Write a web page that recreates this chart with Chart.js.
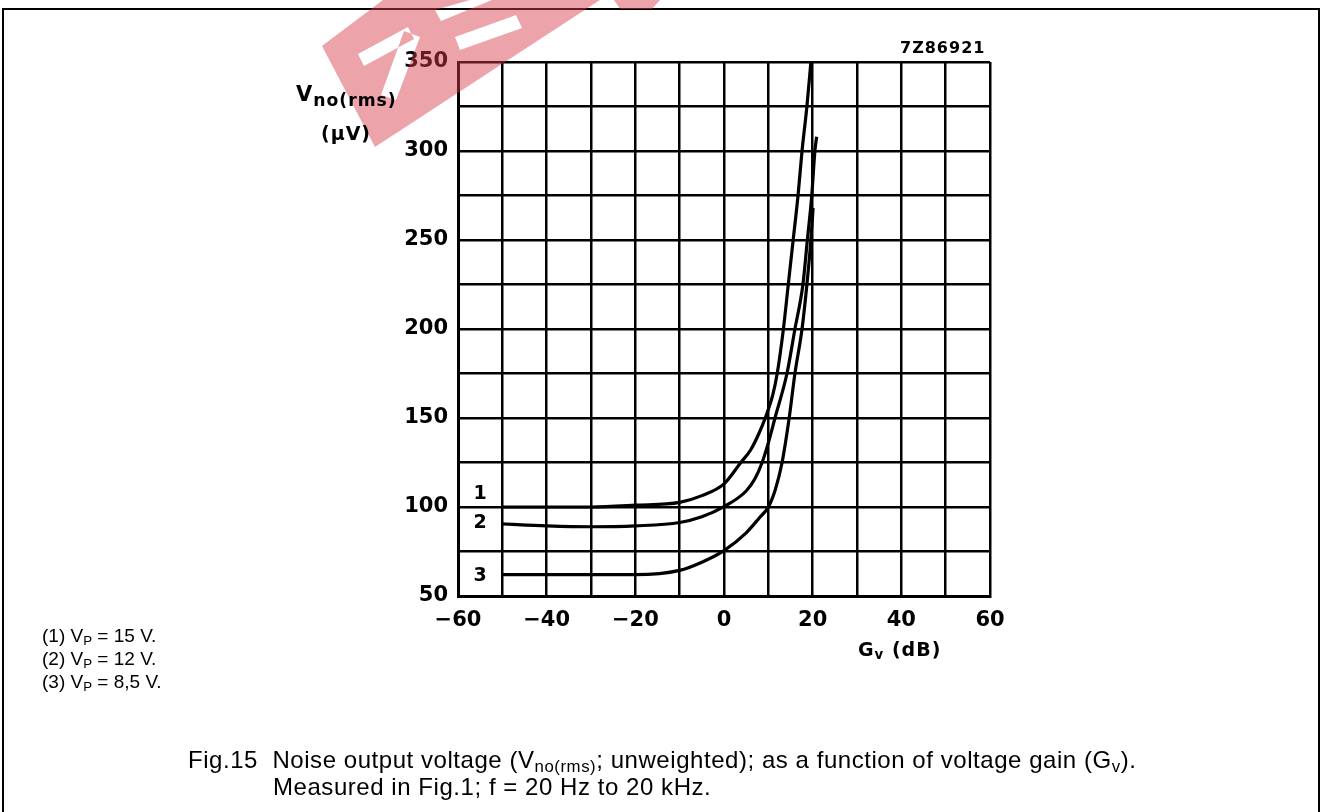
<!DOCTYPE html>
<html lang="en">
<head>
  <meta charset="UTF-8">
  <title>Fig.15 Noise output voltage</title>
  <script src="https://cdn.jsdelivr.net/npm/chart.js"></script>
  <style>
    body {
      margin: 0;
      background: white;
      width: 1326px;
      height: 812px;
      position: relative;
      overflow: hidden;
      font-family: "Liberation Sans", Arial, sans-serif;
    }
    .frame {
      position: absolute;
      left: 2px;
      top: 8px;
      width: 1318px;
      height: 820px;
      border: 2px solid #000;
      box-sizing: border-box;
    }
    #chart {
      position: absolute;
      left: 0;
      top: 0;
    }
    .lbl {
      position: absolute;
      white-space: nowrap;
      color: #000;
    }
    .bold {
      font-family: "DejaVu Sans", sans-serif;
      font-weight: bold;
      letter-spacing: 1px;
    }
    .note {
      font-size: 19px;
    }
    .caption {
      font-size: 24px;
      letter-spacing: 0.55px;
    }
    sub {
      font-size: 70%;
      vertical-align: -0.25em;
      line-height: 0;
    }
    .ysub {
      font-size: 82%;
      vertical-align: -0.3em;
    }
    #mark {
      position: absolute;
      left: 0;
      top: 0;
      pointer-events: none;
    }
  </style>
</head>
<body>
  <div class="frame"></div>
  <canvas id="chart" width="1326" height="812"></canvas>

  <svg id="mark" width="1326" height="812">
    <path fill="rgba(215,60,75,0.47)" fill-rule="evenodd"
      d="M322 46 L383 0 L600 0 L375 147 Z
         M358 54 L408 27 L414 39 L364 66 Z
         M404 31 L420 37 L396 100 L381 95 Z
         M435 10 L470 0 L492 0 L441 21 Z
         M455 37 L516 15 L522 28 L460 50 Z"/>
    <path fill="rgba(215,60,75,0.47)" d="M614 0 L660 0 L652 9 L620 9 Z"/>
  </svg>

  <div class="lbl bold" style="left:900px; top:38px; font-size:16px;">7Z86921</div>
  <div class="lbl bold" style="left:296px; top:82px; font-size:21px;">V<sub class="ysub">no(rms)</sub></div>
  <div class="lbl bold" style="left:321px; top:122px; font-size:19px;">(μV)</div>
  <div class="lbl bold" style="left:858px; top:638px; font-size:19px;">G<sub>v</sub> (dB)</div>

  <div class="lbl note" style="left:42px; top:625px;">(1) V<sub>P</sub> = 15 V.</div>
  <div class="lbl note" style="left:42px; top:648px;">(2) V<sub>P</sub> = 12 V.</div>
  <div class="lbl note" style="left:42px; top:671px;">(3) V<sub>P</sub> = 8,5 V.</div>

  <div class="lbl caption" style="left:188px; top:746px;">Fig.15&nbsp; Noise output voltage (V<sub>no(rms)</sub>; unweighted); as a function of voltage gain (G<sub>v</sub>).</div>
  <div class="lbl caption" style="left:273px; top:773px;">Measured in Fig.1; f = 20 Hz to 20 kHz.</div>

  <script>
    // curve (1) Vp = 15 V
    const gain1  = [-50, -40, -30, -20, -10, -5, 0, 3.8, 6, 8, 9.3, 11, 12, 13.4, 14.5, 15.6, 16.7, 17.6, 18.7, 19.6];
    const noise1 = [100, 100, 100, 101, 102.6, 106.4, 113, 125, 132, 142, 150, 163, 175, 200, 225, 250, 275, 300, 325, 350];

    // curve (2) Vp = 12 V
    const gain2  = [-50, -40, -30, -20, -10, -5, 0, 5, 7, 8.6, 10, 11.5, 14.2, 16, 17.8, 18.8, 19.8, 20.5, 20.9];
    const noise2 = [90.5, 89.4, 88.9, 89.4, 91.3, 94.5, 100.2, 109, 116, 125, 136, 150, 175, 200, 225, 250, 275, 300, 308];

    // curve (3) Vp = 8,5 V
    const gain3  = [-50, -40, -30, -20, -10, -5, 0, 5, 8, 10, 11.6, 13.1, 14.7, 16, 17.6, 18.7, 19.6, 20.1];
    const noise3 = [62, 62, 62, 62, 64.4, 69, 75.5, 85.5, 94, 100, 110, 125, 150, 175, 200, 225, 250, 268];

    const curveNames = ['1', '2', '3'];
    const xTicks = [-60, -40, -20, 0, 20, 40, 60];
    const yTicks = [50, 100, 150, 200, 250, 300, 350];

    function toPoints(xs, ys) {
      return xs.map((x, i) => ({ x: x, y: ys[i] }));
    }

    const tickFont = { family: 'DejaVu Sans', size: 21, weight: 'bold' };

    // draws the curve numbers at the left end of each curve
    const curveLabels = {
      id: 'curveLabels',
      afterDatasetsDraw(chart) {
        const ctx = chart.ctx;
        const xs = chart.scales.x;
        const ys = chart.scales.y;
        const spots = [[-55, 107], [-55, 91], [-55, 61]];
        ctx.save();
        ctx.fillStyle = '#000';
        ctx.font = 'bold 19px "DejaVu Sans"';
        ctx.textAlign = 'center';
        ctx.textBaseline = 'middle';
        curveNames.forEach((name, i) => {
          ctx.fillText(name, xs.getPixelForValue(spots[i][0]), ys.getPixelForValue(spots[i][1]));
        });
        ctx.restore();
      }
    };

    const lineStyle = {
      borderColor: '#000',
      backgroundColor: '#000',
      borderWidth: 3.2,
      pointRadius: 0,
      fill: false,
      cubicInterpolationMode: 'monotone'
    };

    const ctx = document.getElementById('chart').getContext('2d');
    const chart = new Chart(ctx, {
      type: 'line',
      data: {
        datasets: [
          Object.assign({ label: '(1)', data: toPoints(gain1, noise1) }, lineStyle),
          Object.assign({ label: '(2)', data: toPoints(gain2, noise2) }, lineStyle),
          Object.assign({ label: '(3)', data: toPoints(gain3, noise3) }, lineStyle)
        ]
      },
      options: {
        responsive: false,
        devicePixelRatio: 1,
        animation: false,
        layout: { padding: { left: 0, right: 336, top: 62, bottom: 176 } },
        plugins: {
          legend: { display: false },
          tooltip: { enabled: false },
          colors: { enabled: false }
        },
        scales: {
          x: {
            type: 'linear',
            min: -60,
            max: 60,
            afterFit(scale) { scale.height = 40; },
            afterBuildTicks(scale) {
              scale.ticks = [];
              for (let v = -60; v <= 60; v += 10) scale.ticks.push({ value: v });
            },
            ticks: {
              autoSkip: false,
              maxRotation: 0,
              padding: 12,
              color: '#000',
              font: tickFont,
              callback(v) {
                if (!xTicks.includes(v)) return '';
                return v < 0 ? '\u2212' + Math.abs(v) : String(v);
              }
            },
            grid: { color: '#000', lineWidth: 2.5, drawTicks: false },
            border: { color: '#000', width: 3 }
          },
          y: {
            type: 'linear',
            min: 50,
            max: 350,
            afterFit(scale) { scale.width = 458; },
            afterBuildTicks(scale) {
              scale.ticks = [];
              for (let v = 50; v <= 350; v += 25) scale.ticks.push({ value: v });
            },
            ticks: {
              autoSkip: false,
              padding: 10,
              color: '#000',
              font: tickFont,
              callback(v) {
                return yTicks.includes(v) ? String(v) : '';
              }
            },
            grid: { color: '#000', lineWidth: 2.5, drawTicks: false },
            border: { color: '#000', width: 3 }
          }
        }
      },
      plugins: [curveLabels]
    });
  </script>
</body>
</html>
